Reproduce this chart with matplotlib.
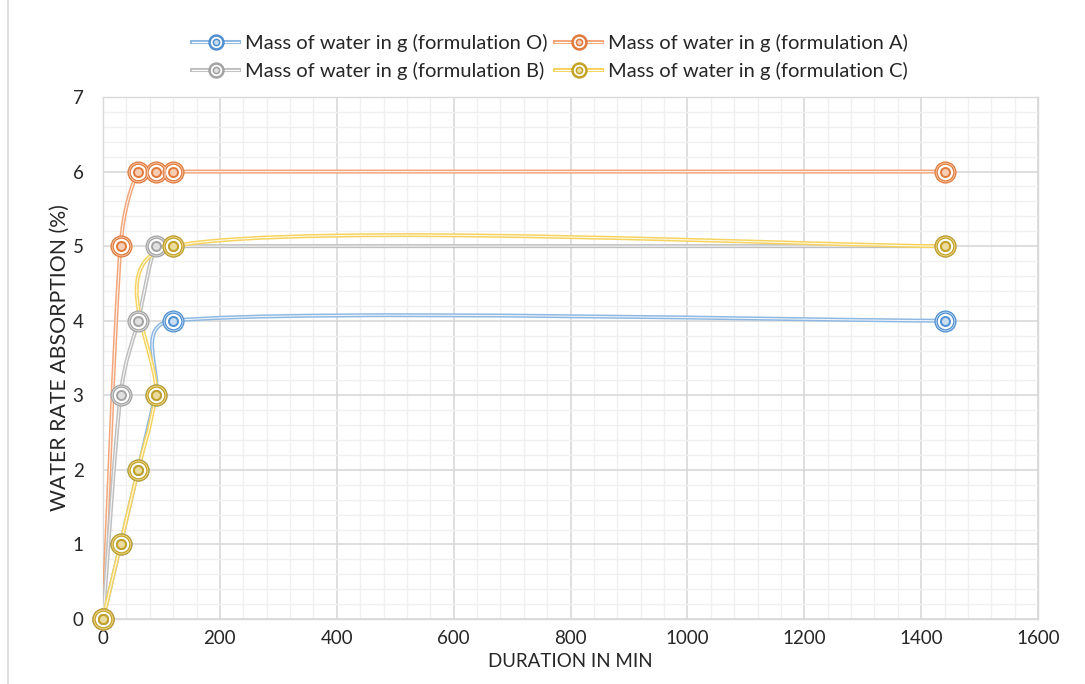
import matplotlib
matplotlib.use("Agg")
import matplotlib.pyplot as plt
import numpy as np
from matplotlib.path import Path
from matplotlib.patches import PathPatch
from matplotlib.lines import Line2D
from matplotlib.legend_handler import HandlerTuple

plt.rcParams["font.family"] = ["Lato", "DejaVu Sans"]

# data
duration = [0, 30, 60, 90, 120, 1440]
water_O = [0, 1, 2, 3, 4, 4]
water_A = [0, 5, 6, 6, 6, 6]
water_B = [0, 3, 4, 5, 5, 5]
water_C = [0, 1, 2, 3, 5, 5]

labels = [
    "Mass of water in g (formulation O)",
    "Mass of water in g (formulation A)",
    "Mass of water in g (formulation B)",
    "Mass of water in g (formulation C)",
]
series = [water_O, water_A, water_B, water_C]
line_colors = ["#8DB8E2", "#F2A679", "#BFBFBF", "#F5D35E"]
mark_colors = ["#4F90D2", "#E07A3C", "#A3A3A3", "#C4A224"]
tints = ["#C9DDF1", "#F8CDB3", "#E0E0E0", "#EADB9E"]

TEXT = "#262626"


def smooth_path(ax, xs, ys):
    """Excel-like smoothed line: Bezier segments, handles computed in screen space."""
    pts = ax.transData.transform(np.column_stack([xs, ys]))
    n = len(pts)
    verts = [pts[0]]
    codes = [Path.MOVETO]
    for i in range(n - 1):
        p0 = pts[i - 1] if i > 0 else pts[i]
        p1 = pts[i]
        p2 = pts[i + 1]
        p3 = pts[i + 2] if i + 2 < n else pts[i + 1]
        d12 = np.linalg.norm(p2 - p1)
        t1 = p2 - p0
        t2 = p3 - p1
        l1 = np.linalg.norm(t1)
        l2 = np.linalg.norm(t2)
        h1 = min(l1 / 6, d12 / 2)
        h2 = min(l2 / 6, d12 / 2)
        c1 = p1 + (t1 / l1 * h1 if l1 > 0 else 0)
        c2 = p2 - (t2 / l2 * h2 if l2 > 0 else 0)
        verts += [c1, c2, p2]
        codes += [Path.CURVE4] * 3
    data_verts = ax.transData.inverted().transform(np.array(verts))
    return Path(data_verts, codes)


fig = plt.figure(figsize=(10.85, 6.84), dpi=100)
fig.patch.set_facecolor("white")
ax = fig.add_axes([103 / 1085, 1 - 619 / 684, (1038 - 103) / 1085, (619 - 97) / 684])

ax.set_xlim(0, 1600)
ax.set_ylim(0, 7)
ax.set_xticks(np.arange(0, 1601, 200))
ax.set_yticks(np.arange(0, 8, 1))
ax.set_xticks(np.arange(0, 1601, 40), minor=True)
ax.set_yticks(np.arange(0, 7.01, 0.2), minor=True)
ax.grid(True, which="minor", color="#F0F0F0", linewidth=1.0)
ax.grid(True, which="major", color="#D6D6D6", linewidth=1.1)
ax.set_axisbelow(True)
for sp in ax.spines.values():
    sp.set_color("#D9D9D9")
    sp.set_linewidth(1.0)
ax.tick_params(which="both", length=0, labelsize=13.5, colors=TEXT, pad=8)
ax.tick_params(axis="y", pad=14)

# smoothed double lines
for ys, lc in zip(series, line_colors):
    p = smooth_path(ax, duration, ys)
    ax.add_patch(PathPatch(p, fill=False, edgecolor=lc, linewidth=2.9, zorder=3))
    ax.add_patch(PathPatch(p, fill=False, edgecolor="white", linewidth=0.8, alpha=0.85, zorder=3))

# double-ring markers
for ys, mc, tc in zip(series, mark_colors, tints):
    ax.plot(duration, ys, linestyle="none", marker="o", ms=13.5, mfc="white",
            mec=mc, mew=2.4, zorder=4, clip_on=False)
    ax.plot(duration, ys, linestyle="none", marker="o", ms=13.5, mfc="none",
            mec=tc, mew=0.6, zorder=4, clip_on=False)
    ax.plot(duration, ys, linestyle="none", marker="o", ms=6.5, mfc=tc,
            mec=mc, mew=1.4, zorder=5, clip_on=False)

ax.set_xlabel("DURATION IN MIN", fontsize=13.5, color=TEXT, labelpad=4)
ax.set_ylabel("WATER RATE ABSORPTION (%)", fontsize=15.3, color=TEXT, labelpad=2)

# legend proxies
handles = []
for lc, mc, tc in zip(line_colors, mark_colors, tints):
    h = (
        Line2D([], [], color=lc, linewidth=2.9),
        Line2D([], [], color="white", linewidth=0.8),
        Line2D([], [], linestyle="none", marker="o", ms=10, mfc="white", mec=mc, mew=1.8),
        Line2D([], [], linestyle="none", marker="o", ms=4.5, mfc=tc, mec=mc, mew=1.1),
    )
    handles.append(h)

# fig.legend fills column-wise: order O, B | A, C gives rows O A / B C
order = [0, 2, 1, 3]
fig.legend([handles[i] for i in order], [labels[i] for i in order],
           loc="center", bbox_to_anchor=(550 / 1085, 1 - 57 / 684),
           ncol=2, frameon=False, fontsize=14.5, handlelength=2.35,
           handletextpad=0.3, columnspacing=0.35, labelspacing=0.5,
           handler_map={tuple: HandlerTuple(ndivide=1)}, labelcolor=TEXT)

# chart area left border
fig.add_artist(Line2D([8 / 1085, 8 / 1085], [0, 1], color="#D9D9D9", linewidth=1.2,
                      transform=fig.transFigure))

fig.savefig("out.png", dpi=100)
